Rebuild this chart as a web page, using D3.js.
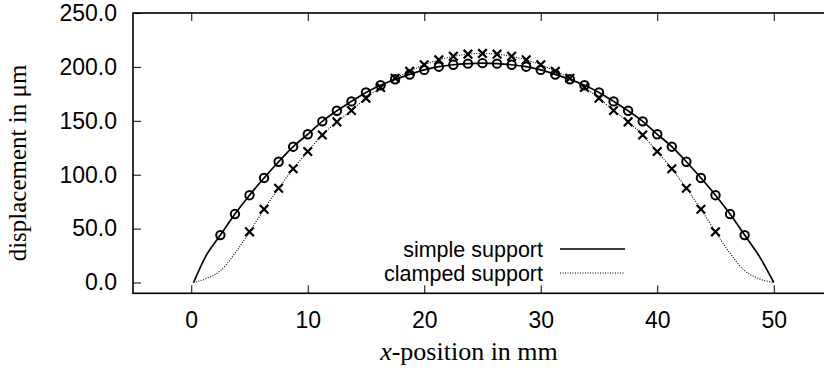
<!DOCTYPE html>
<html><head><meta charset="utf-8">
<script src="https://cdn.jsdelivr.net/npm/d3@7"></script>
<style>
html,body{margin:0;padding:0;background:#fff;}
svg{display:block;}
</style>
</head><body>
<svg id="chart" width="824" height="371"></svg>
<script>
// ---- data ----
const xTicks = [0, 10, 20, 30, 40, 50];
const yTicks = [0, 50, 100, 150, 200, 250];
const seriesNames = ["simple support", "clamped support"];

const simpleX = [2.5, 3.75, 5, 6.25, 7.5, 8.75, 10, 11.25, 12.5, 13.75, 15, 16.25, 17.5, 18.75, 20, 21.25, 22.5, 23.75, 25,
                 26.25, 27.5, 28.75, 30, 31.25, 32.5, 33.75, 35, 36.25, 37.5, 38.75, 40, 41.25, 42.5, 43.75, 45, 46.25, 47.5];
const simpleY = [44, 63.5, 81, 97, 112, 126, 137.5, 149.5, 159.3, 168, 176.3, 183, 188.5, 193, 197.2, 200.2, 202, 203, 203.5,
                 203, 202, 200.2, 197.2, 193, 188.5, 183, 176.3, 168, 159.3, 149.5, 137.5, 126, 112, 97, 81, 63.5, 44];
const simpleStartX = [0.2, 1.25];
const simpleStartY = [0, 24.5];
const simpleEndX = [48.75, 50];
const simpleEndY = [24.5, 0];

const clampedX = [5, 6.25, 7.5, 8.75, 10, 11.25, 12.5, 13.75, 15, 16.25, 17.5, 18.75, 20, 21.25, 22.5, 23.75, 25,
                  26.25, 27.5, 28.75, 30, 31.25, 32.5, 33.75, 35, 36.25, 37.5, 38.75, 40, 41.25, 42.5, 43.75, 45];
const clampedY = [47, 68, 87.4, 105.5, 121.5, 136.8, 149, 159.6, 171, 181, 189.5, 196, 202, 206.5, 209.8, 211.8, 212.5,
                  211.8, 209.8, 206.5, 202, 196, 189.5, 181, 171, 159.6, 149, 136.8, 121.5, 105.5, 87.4, 68, 47];
const clampedStartX = [0.2, 1.25, 2.5, 3.75];
const clampedStartY = [0, 3.5, 11, 27];
const clampedEndX = [46.25, 47.5, 48.75, 50];
const clampedEndY = [27, 11, 3.5, 0];

// ---- layout ----
const svg = d3.select("#chart");
const pLeft = 133, pRight = 832, pTop = 13, pBottom = 293.3;
const x = d3.scaleLinear().domain([-5, 55]).range([pLeft, pRight]);
const y = d3.scaleLinear().domain([-10, 250]).range([pBottom, pTop]);

const zip = (xs, ys) => xs.map((v, i) => [v, ys[i]]);
const simpleCurve = zip(simpleStartX, simpleStartY).concat(zip(simpleX, simpleY), zip(simpleEndX, simpleEndY));
const clampedCurve = zip(clampedStartX, clampedStartY).concat(zip(clampedX, clampedY), zip(clampedEndX, clampedEndY));

const sans = "'Liberation Sans', Arial, Helvetica, sans-serif";
const serif = "'Liberation Serif', 'Times New Roman', serif";
const fs = 23;

// ---- axes ----
const gx = svg.append("g").attr("transform", `translate(0,${pBottom})`)
  .call(d3.axisBottom(x).tickValues(xTicks).tickSizeInner(-8).tickSizeOuter(0).tickPadding(18).tickFormat(d3.format("d")));
const gxt = svg.append("g").attr("transform", `translate(0,${pTop})`)
  .call(d3.axisTop(x).tickValues(xTicks).tickSizeInner(-8).tickSizeOuter(0).tickFormat(""));
const gy = svg.append("g").attr("transform", `translate(${pLeft},0)`)
  .call(d3.axisLeft(y).tickValues(yTicks).tickSizeInner(-8).tickSizeOuter(0).tickPadding(16).tickFormat(d3.format(".1f")));
[gx, gxt, gy].forEach(g => {
  g.select(".domain").remove();
  g.selectAll(".tick line").attr("stroke", "#000").attr("stroke-width", 1);
  g.selectAll(".tick text").attr("fill", "#000").style("font-family", sans).style("font-size", fs + "px");
});

// frame
svg.append("rect").attr("x", pLeft).attr("y", pTop).attr("width", pRight - pLeft).attr("height", pBottom - pTop)
  .attr("fill", "none").attr("stroke", "#000").attr("stroke-width", 1.6);

// ---- lines ----
const line = d3.line().x(d => x(d[0])).y(d => y(d[1])).curve(d3.curveMonotoneX);
svg.append("path").datum(clampedCurve).attr("d", line).attr("fill", "none")
  .attr("stroke", "#000").attr("stroke-width", 1.1).attr("stroke-dasharray", "1,1.5");
svg.append("path").datum(simpleCurve).attr("d", line).attr("fill", "none")
  .attr("stroke", "#000").attr("stroke-width", 1.7);

// ---- markers ----
svg.append("g").selectAll("circle").data(zip(simpleX, simpleY)).join("circle")
  .attr("cx", d => x(d[0])).attr("cy", d => y(d[1])).attr("r", 4.2)
  .attr("fill", "none").attr("stroke", "#000").attr("stroke-width", 2);
const cs = 4.3;
svg.append("g").selectAll("path").data(zip(clampedX, clampedY)).join("path")
  .attr("d", d => {
    const cx = x(d[0]), cy = y(d[1]);
    return `M${cx - cs},${cy - cs}L${cx + cs},${cy + cs}M${cx - cs},${cy + cs}L${cx + cs},${cy - cs}`;
  })
  .attr("fill", "none").attr("stroke", "#000").attr("stroke-width", 2.2);

// ---- legend ----
const legend = svg.append("g");
const lfs = 21.5;
seriesNames.forEach((name, i) => {
  const ly = 249 + i * 24;
  legend.append("text").attr("x", 543).attr("y", ly).attr("dy", "0.35em").attr("text-anchor", "end")
    .style("font-family", sans).style("font-size", lfs + "px").attr("fill", "#000").text(name);
  legend.append("line").attr("x1", 560).attr("x2", 625).attr("y1", ly).attr("y2", ly)
    .attr("stroke", "#000").attr("stroke-width", i === 0 ? 1.7 : 1.1)
    .attr("stroke-dasharray", i === 0 ? null : "1,1.5");
});

// ---- axis titles ----
const xt = svg.append("text").attr("x", 469).attr("y", 360).attr("text-anchor", "middle")
  .style("font-family", serif).style("font-size", "26px").attr("fill", "#000");
xt.append("tspan").style("font-style", "italic").text("x");
xt.append("tspan").text("-position in mm");

svg.append("text").attr("transform", `translate(26,${163}) rotate(-90)`).attr("text-anchor", "middle")
  .style("font-family", serif).style("font-size", "25px").attr("fill", "#000")
  .text("displacement in μm");
</script>
</body></html>
